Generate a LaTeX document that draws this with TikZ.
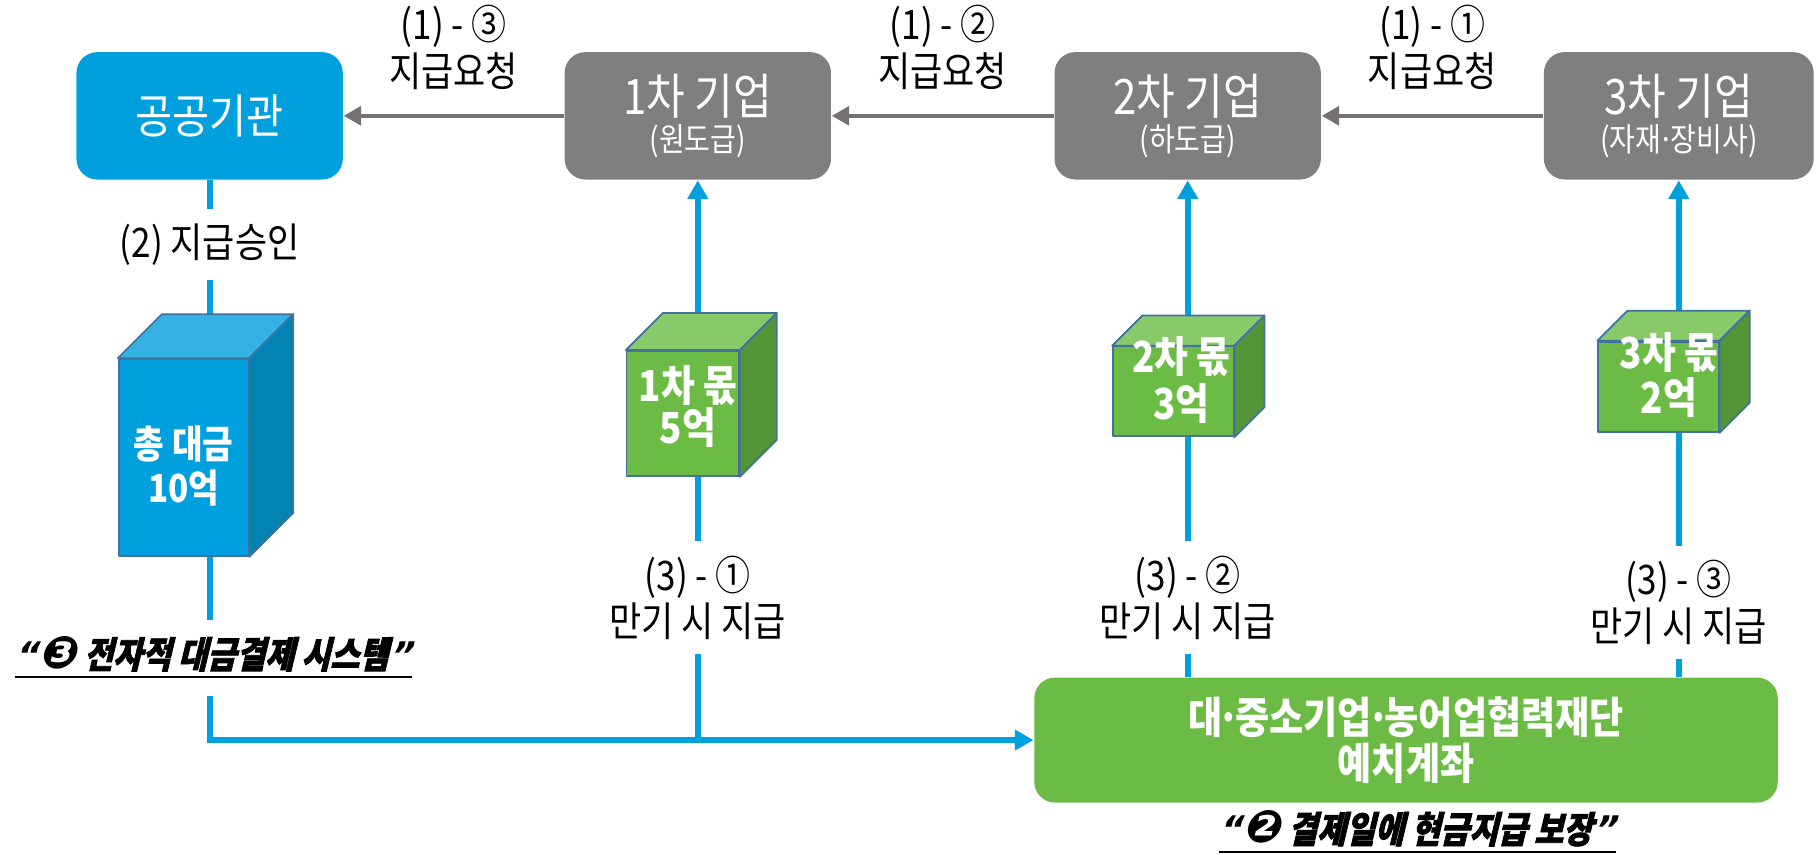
\documentclass[tikz,border=0pt]{standalone}
\usepackage{fontspec}
\setmainfont{Noto Sans CJK KR}[FakeStretch=0.86]
\newfontfamily\mottofont{Noto Sans CJK KR}[FakeStretch=0.86,FakeSlant=0.24,FakeBold=2]
\newfontfamily\dingfont{DejaVu Sans}[FakeSlant=0.24]
\usetikzlibrary{arrows.meta,positioning,backgrounds}

\definecolor{paybl}{RGB}{0,160,223}
\definecolor{blfront}{RGB}{0,160,223}
\definecolor{bltop}{RGB}{52,178,228}
\definecolor{blside}{RGB}{3,131,180}
\definecolor{grfront}{RGB}{107,187,69}
\definecolor{grtop}{RGB}{136,201,106}
\definecolor{grside}{RGB}{84,150,55}
\definecolor{edgeblue}{RGB}{65,113,156}
\definecolor{firmgray}{RGB}{127,127,127}
\definecolor{reqgray}{RGB}{118,113,113}

\tikzset{
  firm/.style={rectangle, rounded corners=1.8mm, fill=firmgray, text=white, minimum width=23mm,
    minimum height=11mm, align=center, inner sep=0pt, font=\fontsize{12}{9.2}\selectfont},
  fund/.style={firm, fill=grfront, minimum width=64.2mm, minimum height=10.8mm,
    font=\bfseries\fontsize{10.6}{11.3}\selectfont},
  lbl/.style={align=center, inner sep=1.2mm, font=\fontsize{10}{11.4}\selectfont},
  req/.style={draw=reqgray, line width=0.38mm, -{Triangle[length=1.5mm,width=1.6mm]}},
  pay/.style={draw=paybl, line width=0.5mm},
  payto/.style={pay, -{Triangle[length=1.6mm,width=1.7mm]}},
  cubeline/.style={draw=edgeblue, line width=0.15mm, line join=round},
  cubeface/.style={cubeline, rectangle, inner sep=0pt},
  cubetext/.style={text=white, align=center, inner sep=0pt, font=\bfseries\fontsize{10.5}{10.5}\selectfont},
  motto/.style={inner xsep=0pt, inner ysep=1.3mm, font=\mottofont\bfseries\fontsize{9}{10}\selectfont}
}

\newcommand{\firmsub}[1]{{\fontsize{8}{8}\selectfont #1}}
\newcommand{\mdot}{\makebox[0.3em]{·}}
\newcommand{\mottotext}[2]{\underline{{\dingfont\bfseries “{\fontsize{11}{10}\selectfont #1}} #2{\dingfont\bfseries ”}}}
% top and side faces of a cube, drawn on its front node
\newcommand{\cubefaces}[4]{%
  \draw[cubeline, fill=#4top] (#1.north west) -- ++(#2,#3) -- ([shift={(#2,#3)}]#1.north east) -- (#1.north east) -- cycle;
  \draw[cubeline, fill=#4side] (#1.north east) -- ([shift={(#2,#3)}]#1.north east) -- ([shift={(#2,#3)}]#1.south east) -- (#1.south east) -- cycle;
}

\begin{document}
\begin{tikzpicture}

\useasboundingbox (0,0) rectangle (156.8mm,73.8mm);

% agency and firms
\node[firm, fill=paybl, font=\fontsize{11.5}{12}\selectfont] (pub) at (18.1mm,63.8mm) {공공기관};
\node[firm] (t1) at (60.25mm,63.8mm) {1차 기업\\\firmsub{(원도급)}};
\node[firm] (t2) at (102.55mm,63.8mm) {2차 기업\\\firmsub{(하도급)}};
\node[firm, minimum width=23.3mm] (t3) at (144.95mm,63.8mm) {3차 기업\\\firmsub{(자재\mdot 장비사)}};

\draw[req] (t3) -- node[lbl, above=0.9mm] (rq1) {(1) - ①\\지급요청} (t2);
\draw[req] (t2) -- node[lbl, above=0.9mm] (rq2) {(1) - ②\\지급요청} (t1);
\draw[req] (t1) -- node[lbl, above=0.9mm] (rq3) {(1) - ③\\지급요청} (pub);

\node[lbl] (ok) at (18.1mm,52.7mm) {(2) 지급승인};
\node[lbl] (due1) at (60.25mm,22.2mm) {(3) - ①\\만기 시 지급};
\node[lbl] (due2) at (102.55mm,22.2mm) {(3) - ②\\만기 시 지급};
\node[lbl] (due3) at (144.95mm,21.8mm) {(3) - ③\\만기 시 지급};

% deposit account
\node[fund] (fund) at (121.4mm,9.9mm) {대\mdot 중소기업\mdot 농어업협력재단\\예치계좌};

\node[motto] (sys) at (18.45mm,17mm) {\mottotext{❸}{전자적 대금결제 시스템}};
\node[motto] (guar) at (122.4mm,1.9mm) {\mottotext{❷}{결제일에 현금지급 보장}};

% money cubes
\node[cubeface, fill=blfront, minimum width=11.2mm, minimum height=17mm] (c0) at (15.85mm,34.3mm) {};
\cubefaces{c0}{3.8mm}{3.8mm}{bl}
\node[cubetext, font=\bfseries\fontsize{9.5}{10.8}\selectfont] (c0t) at (15.85mm,33.6mm) {총 대금\\10억};

\node[cubeface, fill=grfront, minimum width=9.7mm, minimum height=10.8mm] (c1) at (58.95mm,38.1mm) {};
\cubefaces{c1}{3.2mm}{3.2mm}{gr}
\node[cubetext] (c1t) at (59.4mm,38.7mm) {1차 몫\\5억};

\node[cubeface, fill=grfront, minimum width=10.4mm, minimum height=7.75mm] (c2) at (101.3mm,40mm) {};
\cubefaces{c2}{2.6mm}{2.6mm}{gr}
\node[cubetext, font=\bfseries\fontsize{10.5}{11.4}\selectfont] (c2t) at (102mm,41mm) {2차 몫\\3억};

\node[cubeface, fill=grfront, minimum width=10.4mm, minimum height=7.8mm] (c3) at (143.2mm,40.4mm) {};
\cubefaces{c3}{2.6mm}{2.6mm}{gr}
\node[cubetext, font=\bfseries\fontsize{10.5}{11.1}\selectfont] (c3t) at (144.1mm,41.4mm) {3차 몫\\2억};

% payment lines behind the boxes
\begin{scope}[on background layer]
\draw[pay] (pub) -- (ok) (ok) -- (c0 -| ok);
\draw[pay] (c0 -| ok) -- (sys.north -| ok);
\draw[payto] (sys.south -| ok) |- (fund.west);
\draw[payto] (c1 -| t1) -- (t1);
\draw[pay] (c1 -| t1) -- (due1) (due1) -- (due1 |- fund.west);
\draw[payto] (c2 -| t2) -- (t2);
\draw[pay] (c2 -| t2) -- (due2) (due2) -- (due2 |- fund.north);
\draw[payto] (c3 -| t3) -- (t3);
\draw[pay] (c3 -| t3) -- (due3) (due3) -- (due3 |- fund.north);
\end{scope}

\end{tikzpicture}
\end{document}
